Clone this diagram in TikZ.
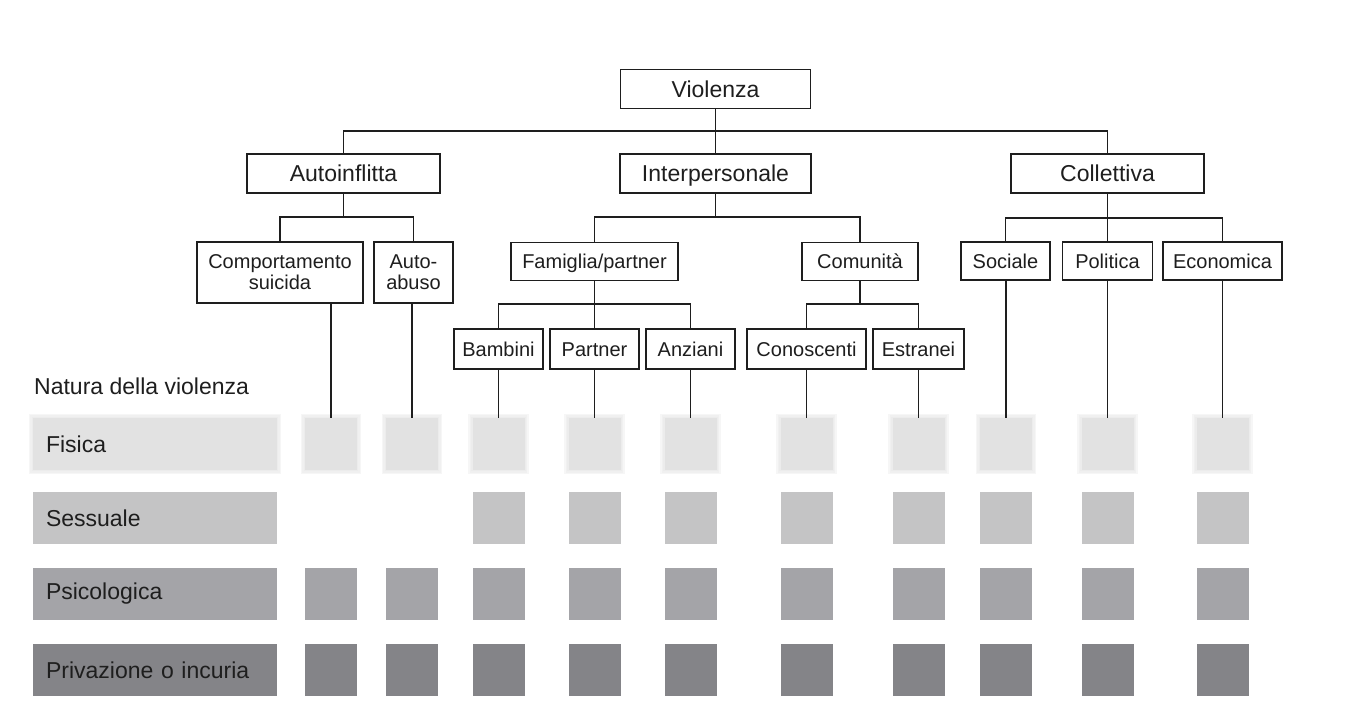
\documentclass[tikz,border=0pt]{standalone}
\usepackage{fontspec}
\setmainfont{Liberation Sans}
\usetikzlibrary{calc}
\definecolor{ink}{HTML}{1E1E1E}
\definecolor{fis}{HTML}{E2E2E2}
\definecolor{ses}{HTML}{C4C4C5}
\definecolor{psi}{HTML}{A4A4A8}
\definecolor{pri}{HTML}{848488}
\pgfdeclarelayer{bg}
\pgfsetlayers{bg,main}
\begin{document}
\begin{tikzpicture}[x=1pt,y=-1pt,
  box/.style={draw=ink, line width=1.8pt, fill=white, inner sep=0pt, text=ink, align=center},
  topbox/.style={box, font=\fontsize{23}{26}\selectfont, minimum height=39pt,
    text height=16.5pt, text depth=0pt},
  midbox/.style={box, font=\fontsize{20}{21}\selectfont, minimum height=38pt},
  onebox/.style={midbox, text height=14.3pt, text depth=0pt},
  link/.style={draw=ink, line width=1.8pt},
  cell/.style={inner sep=0pt, minimum width=52pt, minimum height=52pt},
  rowlab/.style={inner xsep=13pt, inner ysep=0pt, text width=218pt, align=left,
    minimum height=52pt, text=ink, font=\fontsize{23}{26}\selectfont},
  halo/.style={fill=#1, opacity=0.3}]
\useasboundingbox (0,0) rectangle (1349,708);

% first level
\node[topbox, minimum width=190pt] (viol)  at (715.5,89)     {Violenza};
\node[topbox, minimum width=193pt] (auto)  at (343.5,173.5)  {Autoinflitta};
\node[topbox, minimum width=191pt] (inter) at (715.5,173.5)  {Interpersonale};
\node[topbox, minimum width=193pt] (coll)  at (1107.5,173.5) {Collettiva};

% second level
\node[midbox, minimum width=166pt, minimum height=61pt] (comp)  at (280,272.5) {Comportamento\\suicida};
\node[midbox, minimum width=79pt, minimum height=61pt]  (abuso) at (413.5,272.5) {Auto-\\abuso};
\node[onebox, minimum width=167pt] (fam)  at (594.5,261.5) {Famiglia/partner};
\node[onebox, minimum width=116pt] (comu) at (860,261.5)   {Comunità};
\node[onebox, minimum width=89pt]  (soc)  at (1005.5,261)  {Sociale};
\node[onebox, minimum width=90pt]  (pol)  at (1107.5,261)  {Politica};
\node[onebox, minimum width=119pt] (eco)  at (1222.5,261)  {Economica};

% third level
\node[onebox, minimum width=89pt, minimum height=40pt]  (bamb) at (498.5,349) {Bambini};
\node[onebox, minimum width=89pt, minimum height=40pt]  (part) at (594.5,349) {Partner};
\node[onebox, minimum width=89pt, minimum height=40pt]  (anz)  at (690.5,349) {Anziani};
\node[onebox, minimum width=119pt, minimum height=40pt] (cono) at (806.5,349) {Conoscenti};
\node[onebox, minimum width=91pt, minimum height=40pt]  (estr) at (918.5,349) {Estranei};

% tree connectors
\coordinate (hub0) at (715.5,131);
\draw[link] (auto.north) |- (hub0) -| (coll.north);
\draw[link] (viol.south) -- (inter.north);
\draw[link] (auto.south) -- ++(0,23) coordinate (hubA);
\draw[link] (comp.north) |- (hubA) -| (abuso.north);
\draw[link] (inter.south) -- ++(0,23) coordinate (hubI);
\draw[link] (fam.north) |- (hubI) -| (comu.north);
\draw[link] (coll.south) -- ++(0,24) coordinate (hubC);
\draw[link] (soc.north) |- (hubC) -| (eco.north);
\draw[link] (hubC) -- (pol.north);
\draw[link] (fam.south) -- ++(0,23) coordinate (hubF);
\draw[link] (bamb.north) |- (hubF) -| (anz.north);
\draw[link] (hubF) -- (part.north);
\draw[link] (comu.south) -- ++(0,23) coordinate (hubM);
\draw[link] (cono.north) |- (hubM) -| (estr.north);

% legend of the kinds of violence
\node[anchor=west, inner sep=0pt, text=ink, font=\fontsize{23}{26}\selectfont] (natura) at (34,386) {Natura della violenza};
\node[rowlab, fill=fis] (rF) at (155,444) {Fisica};
\node[rowlab, fill=ses] (rS) at (155,518) {Sessuale};
\node[rowlab, fill=psi] (rP) at (155,594) {Psicologica};
\node[rowlab, fill=pri] (rV) at (155,670) {Privazione o incuria};

% grid of cells
\foreach \c/\x in {1/331,2/412,3/498.5,4/594.5,5/690.5,6/806.5,7/918.5,8/1006,9/1107.5,10/1222.5}{
  \node[cell, fill=fis] (f\c) at (\x,444) {};
  \node[cell, fill=psi] (p\c) at (\x,594) {};
  \node[cell, fill=pri] (v\c) at (\x,670) {};
}
\foreach \c/\x in {3/498.5,4/594.5,5/690.5,6/806.5,7/918.5,8/1006,9/1107.5,10/1222.5}{
  \node[cell, fill=ses] (s\c) at (\x,518) {};
}

% soft edges on the first row
\begin{pgfonlayer}{bg}
\foreach \n in {rF,f1,f2,f3,f4,f5,f6,f7,f8,f9,f10}{
  \foreach \h in {4,2.5,1}{
    \fill[halo=fis] ($(\n.north west)+(-\h,-\h)$) rectangle ($(\n.south east)+(\h,\h)$);
  }
}
\end{pgfonlayer}

% leaves down to the cells
\foreach \p/\c in {comp/1,abuso/2,bamb/3,part/4,anz/5,cono/6,estr/7,soc/8,pol/9,eco/10}{
  \draw[link] (\p.south -| f\c.north) -- (f\c.north);
}
\end{tikzpicture}
\end{document}
